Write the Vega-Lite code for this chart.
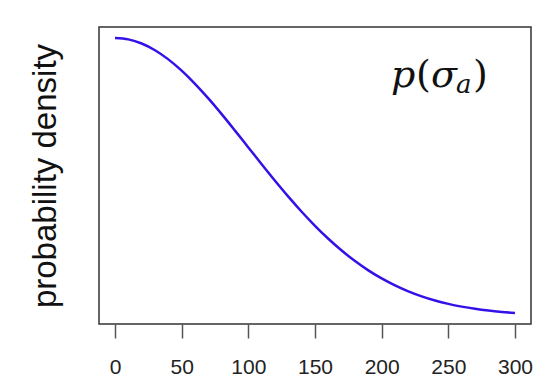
{
  "$schema": "https://vega.github.io/schema/vega-lite/v6.json",
  "width": 432,
  "height": 297,
  "autosize": "none",
  "padding": {"left": 99, "top": 27, "right": 27, "bottom": 63},
  "background": "white",
  "config": {
    "view": {"stroke": "#333333", "strokeWidth": 1.5},
    "font": "Liberation Sans"
  },
  "datasets": {
    "curve": [
      {"x": 0, "y": 1.0},
      {"x": 10, "y": 0.99501},
      {"x": 20, "y": 0.9802},
      {"x": 30, "y": 0.956},
      {"x": 40, "y": 0.92312},
      {"x": 50, "y": 0.8825},
      {"x": 60, "y": 0.83527},
      {"x": 70, "y": 0.7827},
      {"x": 80, "y": 0.72615},
      {"x": 90, "y": 0.66698},
      {"x": 100, "y": 0.60653},
      {"x": 110, "y": 0.54607},
      {"x": 120, "y": 0.48675},
      {"x": 130, "y": 0.42956},
      {"x": 140, "y": 0.37531},
      {"x": 150, "y": 0.32465},
      {"x": 160, "y": 0.27804},
      {"x": 170, "y": 0.23575},
      {"x": 180, "y": 0.1979},
      {"x": 190, "y": 0.16447},
      {"x": 200, "y": 0.13534},
      {"x": 210, "y": 0.11025},
      {"x": 220, "y": 0.08892},
      {"x": 230, "y": 0.071},
      {"x": 240, "y": 0.05613},
      {"x": 250, "y": 0.04394},
      {"x": 260, "y": 0.03405},
      {"x": 270, "y": 0.02612},
      {"x": 280, "y": 0.01984},
      {"x": 290, "y": 0.01492},
      {"x": 300, "y": 0.01111}
    ],
    "label": [
      {"x": 207, "y": 0.8238}
    ]
  },
  "layer": [
    {
      "data": {"name": "curve"},
      "mark": {"type": "line", "color": "#3510e8", "strokeWidth": 2.5, "interpolate": "monotone"},
      "encoding": {
        "x": {
          "field": "x", "type": "quantitative",
          "scale": {"domain": [-12, 312], "nice": false, "zero": false},
          "axis": {
            "title": null, "values": [0, 50, 100, 150, 200, 250, 300],
            "domain": false, "grid": false, "tickSize": 14, "tickColor": "#555555", "tickWidth": 1.5,
            "labelFontSize": 21, "labelColor": "#222222", "labelPadding": 18, "labelFont": "Liberation Sans"
          }
        },
        "y": {
          "field": "y", "type": "quantitative",
          "scale": {"domain": [-0.02845, 1.03956], "nice": false, "zero": false},
          "axis": {
            "title": "probability density", "labels": false, "ticks": false, "domain": false, "grid": false,
            "titleFontSize": 33, "titleFontWeight": "normal", "titleColor": "#111111", "titlePadding": 37,
            "titleFont": "Liberation Sans"
          }
        }
      }
    },
    {
      "data": {"name": "label"},
      "mark": {"type": "text", "text": "p", "font": "DejaVu Serif", "fontStyle": "italic", "fontSize": 38, "align": "left", "baseline": "alphabetic", "color": "#111111", "dx": 0},
      "encoding": {
        "x": {"field": "x", "type": "quantitative"},
        "y": {"field": "y", "type": "quantitative"}
      }
    },
    {
      "data": {"name": "label"},
      "mark": {"type": "text", "text": "(", "font": "DejaVu Serif", "fontSize": 38, "align": "left", "baseline": "alphabetic", "color": "#111111", "dx": 25},
      "encoding": {
        "x": {"field": "x", "type": "quantitative"},
        "y": {"field": "y", "type": "quantitative"}
      }
    },
    {
      "data": {"name": "label"},
      "mark": {"type": "text", "text": "σ", "font": "DejaVu Serif", "fontStyle": "italic", "fontSize": 38, "align": "left", "baseline": "alphabetic", "color": "#111111", "dx": 40},
      "encoding": {
        "x": {"field": "x", "type": "quantitative"},
        "y": {"field": "y", "type": "quantitative"}
      }
    },
    {
      "data": {"name": "label"},
      "mark": {"type": "text", "text": "a", "font": "DejaVu Serif", "fontStyle": "italic", "fontSize": 26, "align": "left", "baseline": "alphabetic", "color": "#111111", "dx": 65, "dy": 6},
      "encoding": {
        "x": {"field": "x", "type": "quantitative"},
        "y": {"field": "y", "type": "quantitative"}
      }
    },
    {
      "data": {"name": "label"},
      "mark": {"type": "text", "text": ")", "font": "DejaVu Serif", "fontSize": 38, "align": "left", "baseline": "alphabetic", "color": "#111111", "dx": 82},
      "encoding": {
        "x": {"field": "x", "type": "quantitative"},
        "y": {"field": "y", "type": "quantitative"}
      }
    }
  ]
}
